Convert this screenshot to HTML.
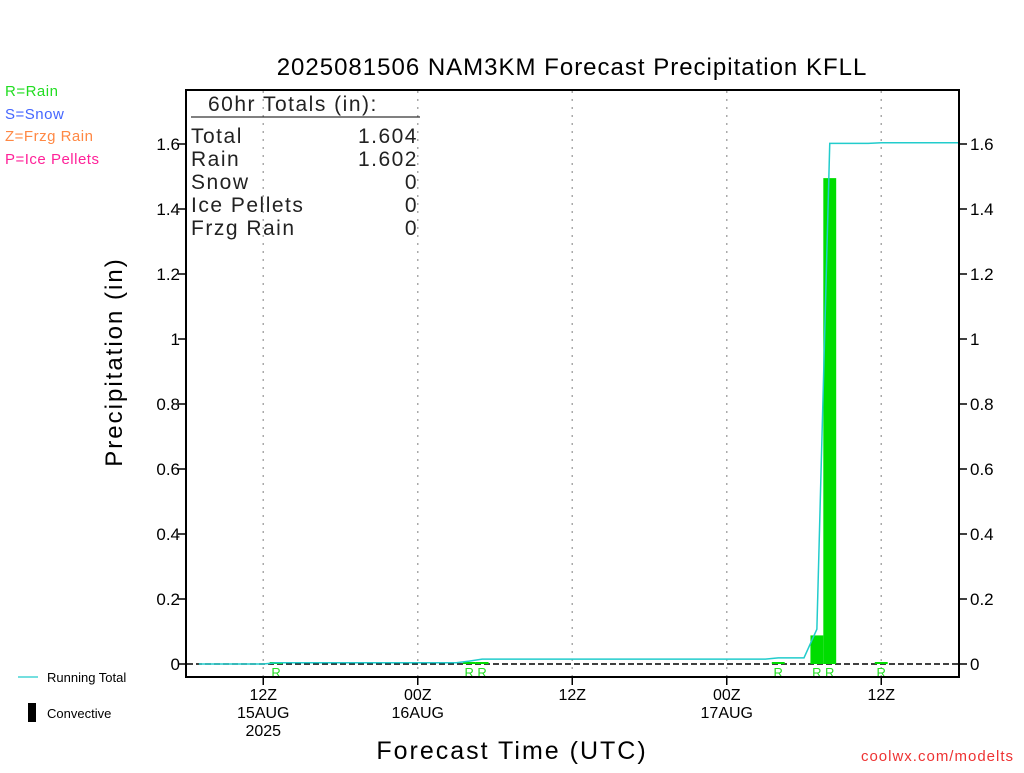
<!DOCTYPE html>
<html><head><meta charset="utf-8"><style>
body{margin:0;background:#fff}
svg text{font-family:"Liberation Sans",sans-serif}
</style></head><body>
<svg id="chart" width="1024" height="768" viewBox="0 0 1024 768" xmlns="http://www.w3.org/2000/svg">
<text x="572" y="75" font-size="24" text-anchor="middle" letter-spacing="1">2025081506 NAM3KM Forecast Precipitation KFLL</text>
<g font-size="15" letter-spacing="0.5">
<text x="5" y="96" fill="#22dd22">R=Rain</text>
<text x="5" y="119" fill="#4466ff">S=Snow</text>
<text x="5" y="141" fill="#ff8844">Z=Frzg Rain</text>
<text x="5" y="164" fill="#ff2299">P=Ice Pellets</text>
</g>
<g id="grid"></g>
<g id="marks"></g>
<rect x="186" y="90" width="773" height="587" fill="none" stroke="#000" stroke-width="2"/>
<g font-size="21" letter-spacing="1.5" fill="#222">
<text x="208" y="111">60hr Totals (in):</text>
<line x1="191" y1="117" x2="420" y2="117" stroke="#000" stroke-width="1"/>
<text x="191" y="143">Total</text><text x="418" y="143" text-anchor="end">1.604</text>
<text x="191" y="166">Rain</text><text x="418" y="166" text-anchor="end">1.602</text>
<text x="191" y="189">Snow</text><text x="418" y="189" text-anchor="end">0</text>
<text x="191" y="212">Ice Pellets</text><text x="418" y="212" text-anchor="end">0</text>
<text x="191" y="235">Frzg Rain</text><text x="418" y="235" text-anchor="end">0</text>
</g>
<g id="yaxes" font-size="17"></g>
<g id="xaxis" font-size="16"></g>
<text transform="translate(122,362) rotate(-90)" font-size="24" text-anchor="middle" letter-spacing="2">Precipitation (in)</text>
<text x="512" y="759" font-size="25" text-anchor="middle" letter-spacing="2">Forecast Time (UTC)</text>
<g font-size="13">
<line x1="18" y1="677" x2="38" y2="677" stroke="#22cccc" stroke-width="1.2"/>
<text x="47" y="682">Running Total</text>
<rect x="28" y="703" width="8" height="19" fill="#000"/>
<text x="47" y="718">Convective</text>
</g>
<text x="1014" y="761" font-size="15" fill="#ee3333" text-anchor="end" letter-spacing="1">coolwx.com/modelts</text>
</svg>
<script>
const hours = [];
for (let h = 1; h <= 60; h++) hours.push(h);
const hourlyPrecip = [0,0,0,0,0,0,0.004,0,0,0,0,0,0,0,0,0,0,0,0,0,0,0.005,0.006,0,0,0,0,0,0,0,0,0,0,0,0,0,0,0,0,0,0,0,0,0,0,0.004,0,0,0.088,1.495,0,0,0,0.002,0,0,0,0,0,0];
const yTicks = [0,0.2,0.4,0.6,0.8,1,1.2,1.4,1.6];
const yTickLabels = ["0","0.2","0.4","0.6","0.8","1","1.2","1.4","1.6"];
const xTickHours = [6,18,30,42,54];
const xTickLabels = [["12Z","15AUG","2025"],["00Z","16AUG"],["12Z"],["00Z","17AUG"],["12Z"]];

const NS = "http://www.w3.org/2000/svg";
const X = h => 186 + h * 12.875;
const Y = v => 664 - v * 325;
function mk(tag, attrs, parent){const e=document.createElementNS(NS,tag);for(const k in attrs)e.setAttribute(k,attrs[k]);parent.appendChild(e);return e;}
const grid=document.getElementById('grid'), marks=document.getElementById('marks'), ya=document.getElementById('yaxes'), xa=document.getElementById('xaxis');

xTickHours.forEach((h,i)=>{
  const g=mk('line',{x1:X(h),x2:X(h),y1:91,y2:676,stroke:'#aaa','stroke-dasharray':'2,6','stroke-width':1.5},grid);
  
  
  const t=mk('line',{x1:X(h),x2:X(h),y1:677,y2:685,stroke:'#000','stroke-width':1.5},xa);
  
  
  xTickLabels[i].forEach((s,j)=>{
    const tx=mk('text',{x:X(h),y:700+j*18,'text-anchor':'middle'},xa);
    tx.textContent=s;
    
    
  });
});
yTicks.forEach((v,i)=>{
  [[178,186,180,'end'],[959,967,970,'start']].forEach(a=>{
    const t=mk('line',{x1:a[0],x2:a[1],y1:Y(v),y2:Y(v),stroke:'#000','stroke-width':1.5},ya);
    
    
    const tx=mk('text',{x:a[2],y:Y(v)+6,'text-anchor':a[3]},ya);
    tx.textContent=yTickLabels[i];
    
    
  });
});
const base=mk('line',{x1:187,x2:958,y1:Y(0),y2:Y(0),stroke:'#000','stroke-dasharray':'6,3','stroke-width':1.5},marks);


hours.forEach((h,i)=>{
  const v=hourlyPrecip[i];
  if(v>0){
    const b=mk('rect',{x:X(h-0.5),y:Math.min(Y(v),Y(0)-2),width:12.875,height:Math.max(Y(0)-Y(v),2),fill:'#00dd00'},marks);
    
    
    const r=mk('text',{x:X(h),y:677,'text-anchor':'middle','font-size':13,fill:'#22dd22'},marks);
    r.textContent='R';
    
    
  }
});
let cum=0;const pts=[];
hours.forEach((h,i)=>{cum+=hourlyPrecip[i];pts.push(X(h)+','+Y(cum));});
const ln=mk('polyline',{points:pts.join(' '),fill:'none',stroke:'#22cccc','stroke-width':1.5},marks);


</script>
</body></html>
